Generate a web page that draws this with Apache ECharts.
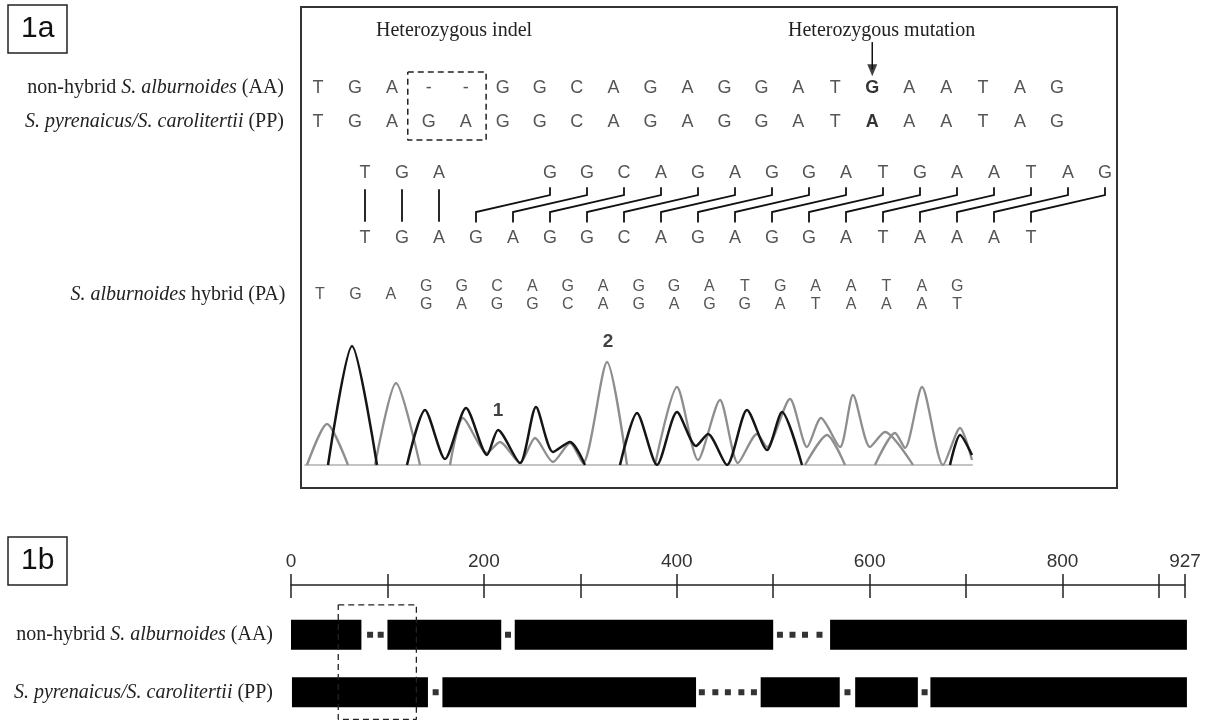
<!DOCTYPE html>
<html>
<head>
<meta charset="utf-8">
<title>Figure 1</title>
<script src="https://cdn.jsdelivr.net/npm/echarts@6/dist/echarts.min.js"></script>
<style>
    html, body { margin: 0; padding: 0; background: #fff; }
    #chart { width: 1206px; height: 721px; }
</style>
</head>
<body>
<div id="chart"></div>
<script>
// ---- 1a: sequences ----
const rowAA = ['T','G','A','-','-','G','G','C','A','G','A','G','G','A','T','G','A','A','T','A','G'];
const rowPP = ['T','G','A','G','A','G','G','C','A','G','A','G','G','A','T','A','A','A','T','A','G'];
const mutationIndex = 15;
const indelIndex = [3, 4];

// shifted alignment (AA on top, PP below, 2 bp offset)
const alignTop = ['T','G','A','','','G','G','C','A','G','A','G','G','A','T','G','A','A','T','A','G'];
const alignBottom = ['T','G','A','G','A','G','G','C','A','G','A','G','G','A','T','A','A','A','T'];

// hybrid PA read
const paSingle = ['T','G','A'];
const paUpper = ['G','G','C','A','G','A','G','G','A','T','G','A','A','T','A','G'];
const paLower = ['G','A','G','G','C','A','G','A','G','G','A','T','A','A','A','T'];

// chromatogram traces [scan, signal], one array per unbroken segment
const blackTrace = [
    [[23,0],[47,119],[72,0]],
    [[102,0],[120,55],[140,6],[161,57],[182,10],[193,35],[215,2],[231,58],[248,13],[265,23],[280,0]],
    [[315,0],[332,52],[352,0],[372,53],[391,19],[403,31],[422,0],[442,55],[462,15],[477,53],[497,0]],
    [[645,0],[655,30],[667,10]]
];
const grayTrace = [
    [[2,0],[22,41],[43,0]],
    [[70,0],[91,82],[115,0]],
    [[145,0],[158,47],[182,12],[195,23],[215,2],[230,27],[248,3],[265,22],[278,2],[302,103],[322,0]],
    [[350,0],[372,78],[393,5],[415,65],[433,2],[452,31],[462,18],[485,66],[502,18],[516,47],[535,18],[548,70],[565,18],[580,33],[608,0]],
    [[500,0],[522,30],[540,0]],
    [[570,0],[590,32],[600,17],[617,78],[638,0],[655,37],[667,5]]
];
const peakLabels = [['1', 193, 54], ['2', 303, 123]];

// ---- 1b: fragment map ----
const fragmentLength = 927;
const rulerTicks = [0,100,200,300,400,500,600,700,800,900,927];
const rulerLabels = [0,200,400,600,800,927];
// [start, end, row]  row 0 = AA, row 1 = PP
const blocks = [
    [0,73,0],[100,218,0],[232,500,0],[559,929,0],
    [1,142,1],[157,420,1],[487,569,1],[585,650,1],[663,929,1]
];
// single-base gaps [position, row]
const gaps = [
    [82,0],[93,0],[225,0],[507,0],[520,0],[533,0],[548,0],
    [150,1],[426,1],[440,1],[453,1],[467,1],[480,1],[577,1],[657,1]
];
const indelRegion = [49, 130];

const serif = 'Liberation Serif';
const sans = 'Liberation Sans';

const rowRich = {
    n: { fontFamily: serif, fontSize: 20, color: '#222' },
    i: { fontFamily: serif, fontSize: 20, color: '#222', fontStyle: 'italic' }
};
const labelsA = ['{n|non-hybrid }{i|S. alburnoides}{n| (AA)}', '{i|S. pyrenaicus/S. carolitertii}{n| (PP)}'];
const labelsPA = ['{i|S. alburnoides}{n| hybrid (PA)}'];

function letterPoints(letters, row, first, boldAt) {
    const pts = [];
    letters.forEach((ch, i) => {
        if (!ch) return;
        const item = { name: ch, value: [first + i, row] };
        if (first + i === boldAt) item.label = { fontWeight: 'bold', color: '#000' };
        pts.push(item);
    });
    return pts;
}

function letterSeries(data, axis, size) {
    return {
        type: 'scatter', xAxisIndex: axis, yAxisIndex: axis, data: data,
        symbolSize: 1, itemStyle: { color: 'rgba(0,0,0,0)' }, silent: true,
        label: { show: true, position: 'inside', formatter: '{b}', fontFamily: sans, fontSize: size, color: '#2a2a2a' }
    };
}

function rectPath(x0, x1, y0, y1) {
    return [[x0, y0], [x1, y0], [x1, y1], [x0, y1], [x0, y0]];
}

// connectors of the shifted alignment
const shift = indelIndex.length;
const connectors = [];
alignTop.forEach((ch, k) => {
    if (!ch) return;
    if (k < indelIndex[0]) {
        connectors.push({ coords: [[k, 0.25], [k, 0.75]] });
    } else {
        connectors.push({ coords: [[k, 0.22], [k, 0.34], [k - shift, 0.6], [k - shift, 0.76]] });
    }
});

const hidden = { show: false };
const series = [];

// rows 1-2
series.push(letterSeries(letterPoints(rowAA, 0, 0, mutationIndex), 1, 18));
series.push(letterSeries(letterPoints(rowPP, 1, 0, mutationIndex), 1, 18));
series.push({
    type: 'line', xAxisIndex: 1, yAxisIndex: 1, clip: false, silent: true, symbol: 'none',
    data: rectPath(indelIndex[0] - 0.57, indelIndex[1] + 0.55, -0.47, 1.53),
    lineStyle: { color: '#222', width: 1.5, type: [6, 4] }
});
// arrow to the mutated base
series.push({
    type: 'line', xAxisIndex: 1, yAxisIndex: 1, clip: false, silent: true, symbol: 'none',
    data: [[mutationIndex, -1.35], [mutationIndex, -0.55]],
    lineStyle: { color: '#111', width: 1.5 }
});
series.push({
    type: 'scatter', xAxisIndex: 1, yAxisIndex: 1, silent: true,
    data: [[mutationIndex, -0.52]],
    symbol: 'triangle', symbolSize: [10, 12], symbolRotate: 180, itemStyle: { color: '#111' }
});

// rows 3-4
series.push(letterSeries(letterPoints(alignTop, 0, 0, -1), 2, 18));
series.push(letterSeries(letterPoints(alignBottom, 1, 0, -1), 2, 18));
series.push({
    type: 'lines', coordinateSystem: 'cartesian2d', xAxisIndex: 2, yAxisIndex: 2,
    polyline: true, silent: true, data: connectors,
    lineStyle: { color: '#111', width: 1.8, opacity: 1 }
});

// PA row
series.push(letterSeries(letterPoints(paSingle, 0, 0, -1), 3, 16));
series.push(letterSeries(letterPoints(paUpper, -0.52, 3, -1), 3, 16));
series.push(letterSeries(letterPoints(paLower, 0.62, 3, -1), 3, 16));

// chromatogram
grayTrace.forEach(seg => series.push({
    type: 'line', xAxisIndex: 4, yAxisIndex: 4, data: seg, symbol: 'none', smooth: 0.25, silent: true,
    lineStyle: { color: '#8e8e8e', width: 2.3 }
}));
blackTrace.forEach(seg => series.push({
    type: 'line', xAxisIndex: 4, yAxisIndex: 4, data: seg, symbol: 'none', smooth: 0.25, silent: true,
    lineStyle: { color: '#151515', width: 2.5 }
}));
series.push({
    type: 'scatter', xAxisIndex: 4, yAxisIndex: 4, symbolSize: 1, silent: true,
    itemStyle: { color: 'rgba(0,0,0,0)' },
    data: peakLabels.map(p => ({ name: p[0], value: [p[1], p[2]] })),
    label: { show: true, position: 'inside', formatter: '{b}', fontFamily: sans, fontSize: 19, fontWeight: 'bold', color: '#111' }
});

// 1b blocks
series.push({
    type: 'custom', xAxisIndex: 5, yAxisIndex: 5, silent: true, data: blocks,
    encode: { x: [0, 1], y: 2 },
    renderItem: function (params, api) {
        const a = api.coord([api.value(0), api.value(2)]);
        const b = api.coord([api.value(1), api.value(2)]);
        return { type: 'rect', shape: { x: a[0], y: a[1] - 15, width: b[0] - a[0], height: 30 }, style: { fill: '#000' } };
    }
});
series.push({
    type: 'scatter', xAxisIndex: 5, yAxisIndex: 5, silent: true, data: gaps,
    symbol: 'rect', symbolSize: 6, itemStyle: { color: '#000' }
});
series.push({
    type: 'line', xAxisIndex: 5, yAxisIndex: 5, clip: false, silent: true, symbol: 'none',
    data: rectPath(indelRegion[0], indelRegion[1], -0.52, 1.47),
    lineStyle: { color: '#222', width: 1.3, type: [6, 4] }
});

const chart = echarts.init(document.getElementById('chart'));
chart.setOption({
    animation: false,
    backgroundColor: '#fff',
    title: [
        { text: '1a', left: 8, top: 5, padding: [8, 13], borderColor: '#222', borderWidth: 1.5,
          textStyle: { fontFamily: sans, fontSize: 30, fontWeight: 'normal', color: '#111', lineHeight: 32 } },
        { text: '1b', left: 8, top: 537, padding: [8, 13], borderColor: '#222', borderWidth: 1.5,
          textStyle: { fontFamily: sans, fontSize: 30, fontWeight: 'normal', color: '#111', lineHeight: 32 } },
        { text: 'Heterozygous indel', left: 376, top: 21, padding: 0,
          textStyle: { fontFamily: serif, fontSize: 20, fontWeight: 'normal', color: '#222' } },
        { text: 'Heterozygous mutation', left: 788, top: 21, padding: 0,
          textStyle: { fontFamily: serif, fontSize: 20, fontWeight: 'normal', color: '#222' } }
    ],
    grid: [
        { left: 301, top: 7, width: 816, height: 481, show: true, borderColor: '#333', borderWidth: 2, backgroundColor: 'transparent' },
        { left: 299.5, top: 37, width: 776, height: 108.8 },
        { left: 346.5, top: 160, width: 777, height: 91 },
        { left: 302.3, top: 279, width: 672.6, height: 32 },
        { left: 305, top: 335, width: 667, height: 130 },
        { left: 291, top: 606, width: 894, height: 116 }
    ],
    xAxis: [
        { gridIndex: 0, type: 'value', min: 0, max: 1, show: false },
        { gridIndex: 1, type: 'value', min: -0.5, max: 20.5, show: false },
        { gridIndex: 2, type: 'value', min: -0.5, max: 20.5, show: false },
        { gridIndex: 3, type: 'value', min: -0.5, max: 18.5, show: false },
        { gridIndex: 4, type: 'value', min: 0, max: 667, splitLine: hidden, axisTick: hidden, axisLabel: hidden,
          axisLine: { onZero: false, lineStyle: { color: '#c4c4c4', width: 2 } } },
        { gridIndex: 5, type: 'value', min: 0, max: fragmentLength, position: 'top', offset: 21, splitLine: hidden,
          axisLine: { onZero: false, lineStyle: { color: '#222', width: 1.5 } },
          axisTick: { customValues: rulerTicks, length: 11, lineStyle: { color: '#222', width: 1.5 } },
          axisLabel: { customValues: rulerLabels, margin: 14, fontFamily: sans, fontSize: 19, color: '#333' } },
        { gridIndex: 5, type: 'value', min: 0, max: fragmentLength, position: 'top', offset: 21, splitLine: hidden,
          axisLine: { show: false, onZero: false }, axisLabel: hidden,
          axisTick: { customValues: rulerTicks, inside: true, length: 13, lineStyle: { color: '#222', width: 1.5 } } }
    ],
    yAxis: [
        { gridIndex: 0, type: 'value', min: 0, max: 1, show: false },
        { gridIndex: 1, type: 'value', inverse: true, min: -1.5, max: 1.7,
          axisLine: hidden, axisTick: hidden, splitLine: hidden,
          axisLabel: { customValues: [0, 1], margin: 15.5, formatter: v => labelsA[Math.round(v)], rich: rowRich } },
        { gridIndex: 2, type: 'value', inverse: true, min: -0.2, max: 1.2, show: false },
        { gridIndex: 3, type: 'value', inverse: true, min: -1, max: 1,
          axisLine: hidden, axisTick: hidden, splitLine: hidden,
          axisLabel: { customValues: [0], margin: 17, formatter: v => labelsPA[Math.round(v)], rich: rowRich } },
        { gridIndex: 4, type: 'value', min: 0, max: 130, show: false },
        { gridIndex: 5, type: 'value', inverse: true, min: -0.5, max: 1.5,
          axisLine: hidden, axisTick: hidden, splitLine: hidden,
          axisLabel: { customValues: [0, 1], margin: 18, formatter: v => labelsA[Math.round(v)], rich: rowRich } }
    ],
    series: series
});
</script>
</body>
</html>
